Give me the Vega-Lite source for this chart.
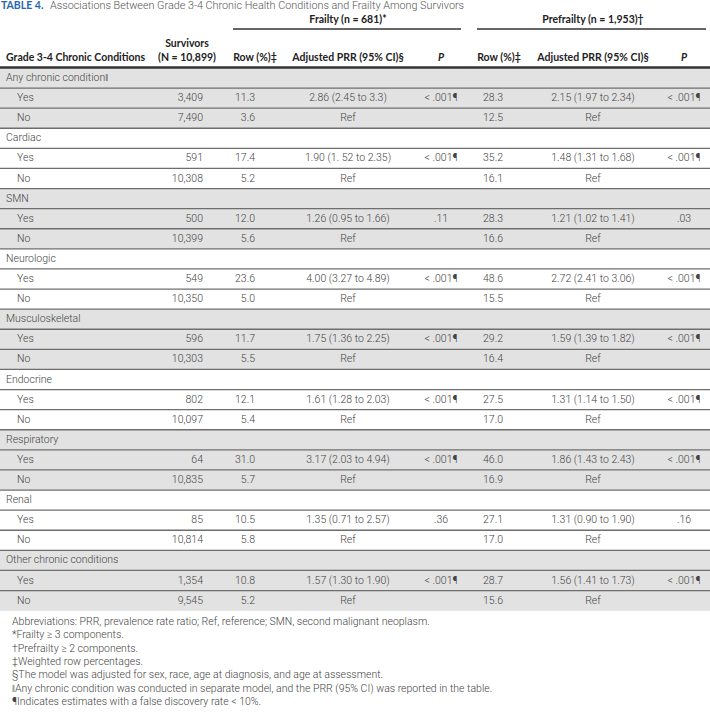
{
  "$schema": "https://vega.github.io/schema/vega-lite/v6.json",
  "width": 710,
  "height": 714,
  "padding": 0,
  "autosize": "none",
  "background": "white",
  "config": {
    "view": {"stroke": null},
    "axis": {"disable": true},
    "text": {"font": "Roboto", "fontSize": 10.5, "fontWeight": 300, "color": "#444444", "baseline": "middle"}
  },
  "datasets": {
    "body": [
      {"line": 4, "group": 0, "kind": "group", "label": "Any chronic condition‖"},
      {"line": 5, "group": 0, "kind": "item", "label": "Yes", "surv": "3,409", "frow": "11.3", "fprr": "2.86 (2.45 to 3.3)", "fp": "< .001¶", "prow": "28.3", "pprr": "2.15 (1.97 to 2.34)", "pp": "< .001¶"},
      {"line": 6, "group": 0, "kind": "item", "label": "No", "surv": "7,490", "frow": "3.6", "fprr": "Ref", "fp": "", "prow": "12.5", "pprr": "Ref", "pp": ""},
      {"line": 7, "group": 1, "kind": "group", "label": "Cardiac"},
      {"line": 8, "group": 1, "kind": "item", "label": "Yes", "surv": "591", "frow": "17.4", "fprr": "1.90 (1. 52 to 2.35)", "fp": "< .001¶", "prow": "35.2", "pprr": "1.48 (1.31 to 1.68)", "pp": "< .001¶"},
      {"line": 9, "group": 1, "kind": "item", "label": "No", "surv": "10,308", "frow": "5.2", "fprr": "Ref", "fp": "", "prow": "16.1", "pprr": "Ref", "pp": ""},
      {"line": 10, "group": 2, "kind": "group", "label": "SMN"},
      {"line": 11, "group": 2, "kind": "item", "label": "Yes", "surv": "500", "frow": "12.0", "fprr": "1.26 (0.95 to 1.66)", "fp": ".11", "prow": "28.3", "pprr": "1.21 (1.02 to 1.41)", "pp": ".03"},
      {"line": 12, "group": 2, "kind": "item", "label": "No", "surv": "10,399", "frow": "5.6", "fprr": "Ref", "fp": "", "prow": "16.6", "pprr": "Ref", "pp": ""},
      {"line": 13, "group": 3, "kind": "group", "label": "Neurologic"},
      {"line": 14, "group": 3, "kind": "item", "label": "Yes", "surv": "549", "frow": "23.6", "fprr": "4.00 (3.27 to 4.89)", "fp": "< .001¶", "prow": "48.6", "pprr": "2.72 (2.41 to 3.06)", "pp": "< .001¶"},
      {"line": 15, "group": 3, "kind": "item", "label": "No", "surv": "10,350", "frow": "5.0", "fprr": "Ref", "fp": "", "prow": "15.5", "pprr": "Ref", "pp": ""},
      {"line": 16, "group": 4, "kind": "group", "label": "Musculoskeletal"},
      {"line": 17, "group": 4, "kind": "item", "label": "Yes", "surv": "596", "frow": "11.7", "fprr": "1.75 (1.36 to 2.25)", "fp": "< .001¶", "prow": "29.2", "pprr": "1.59 (1.39 to 1.82)", "pp": "< .001¶"},
      {"line": 18, "group": 4, "kind": "item", "label": "No", "surv": "10,303", "frow": "5.5", "fprr": "Ref", "fp": "", "prow": "16.4", "pprr": "Ref", "pp": ""},
      {"line": 19, "group": 5, "kind": "group", "label": "Endocrine"},
      {"line": 20, "group": 5, "kind": "item", "label": "Yes", "surv": "802", "frow": "12.1", "fprr": "1.61 (1.28 to 2.03)", "fp": "< .001¶", "prow": "27.5", "pprr": "1.31 (1.14 to 1.50)", "pp": "< .001¶"},
      {"line": 21, "group": 5, "kind": "item", "label": "No", "surv": "10,097", "frow": "5.4", "fprr": "Ref", "fp": "", "prow": "17.0", "pprr": "Ref", "pp": ""},
      {"line": 22, "group": 6, "kind": "group", "label": "Respiratory"},
      {"line": 23, "group": 6, "kind": "item", "label": "Yes", "surv": "64", "frow": "31.0", "fprr": "3.17 (2.03 to 4.94)", "fp": "< .001¶", "prow": "46.0", "pprr": "1.86 (1.43 to 2.43)", "pp": "< .001¶"},
      {"line": 24, "group": 6, "kind": "item", "label": "No", "surv": "10,835", "frow": "5.7", "fprr": "Ref", "fp": "", "prow": "16.9", "pprr": "Ref", "pp": ""},
      {"line": 25, "group": 7, "kind": "group", "label": "Renal"},
      {"line": 26, "group": 7, "kind": "item", "label": "Yes", "surv": "85", "frow": "10.5", "fprr": "1.35 (0.71 to 2.57)", "fp": ".36", "prow": "27.1", "pprr": "1.31 (0.90 to 1.90)", "pp": ".16"},
      {"line": 27, "group": 7, "kind": "item", "label": "No", "surv": "10,814", "frow": "5.8", "fprr": "Ref", "fp": "", "prow": "17.0", "pprr": "Ref", "pp": ""},
      {"line": 28, "group": 8, "kind": "group", "label": "Other chronic conditions"},
      {"line": 29, "group": 8, "kind": "item", "label": "Yes", "surv": "1,354", "frow": "10.8", "fprr": "1.57 (1.30 to 1.90)", "fp": "< .001¶", "prow": "28.7", "pprr": "1.56 (1.41 to 1.73)", "pp": "< .001¶"},
      {"line": 30, "group": 8, "kind": "item", "label": "No", "surv": "9,545", "frow": "5.2", "fprr": "Ref", "fp": "", "prow": "15.6", "pprr": "Ref", "pp": ""}
    ],
    "header": [
      {"line": 1, "col": 10, "text": "Frailty (n = 681)*", "style": "center"},
      {"line": 1, "col": 16, "text": "Prefrailty (n = 1,953)†", "style": "center"},
      {"line": 2, "col": 6, "text": "Survivors", "style": "center"},
      {"line": 3, "col": 2, "text": "Grade 3-4 Chronic Conditions", "style": "left"},
      {"line": 3, "col": 6, "text": "(N = 10,899)", "style": "center"},
      {"line": 3, "col": 9, "text": "Row (%)‡", "style": "center"},
      {"line": 3, "col": 10, "text": "Adjusted PRR (95% CI)§", "style": "center"},
      {"line": 3, "col": 11, "text": "P", "style": "italic"},
      {"line": 3, "col": 14, "text": "Row (%)‡", "style": "center"},
      {"line": 3, "col": 16, "text": "Adjusted PRR (95% CI)§", "style": "center"},
      {"line": 3, "col": 17, "text": "P", "style": "italic"}
    ],
    "spans": [
      {"line": 1, "from": 8, "to": 12},
      {"line": 1, "from": 13, "to": 18}
    ],
    "notes": [
      {"line": 31, "text": "Abbreviations: PRR, prevalence rate ratio; Ref, reference; SMN, second malignant neoplasm."},
      {"line": 32, "text": "*Frailty ≥ 3 components."},
      {"line": 33, "text": "†Prefrailty ≥ 2 components."},
      {"line": 34, "text": "‡Weighted row percentages."},
      {"line": 35, "text": "§The model was adjusted for sex, race, age at diagnosis, and age at assessment."},
      {"line": 36, "text": "‖Any chronic condition was conducted in separate model, and the PRR (95% CI) was reported in the table."},
      {"line": 37, "text": "¶Indicates estimates with a false discovery rate < 10%."}
    ]
  },
  "layer": [
    {
      "data": {"name": "body"},
      "transform": [{"filter": "datum.group % 2 == 0"}],
      "mark": {"type": "rect", "color": "#e2e2e2", "yOffset": -10.05, "y2Offset": 10.05},
      "encoding": {
        "x": {"datum": 0, "type": "quantitative", "axis": null, "scale": {"type": "linear", "zero": false, "nice": false, "domain": [0,1,2,3,4,5,6,7,8,9,10,11,12,13,14,15,16,17,18,19], "range": [0,1,6,12,17,50,187,203,233,255,348,441,461,477,499,503,593,684,706,710]}},
        "x2": {"datum": 19},
        "y": {"field": "line", "type": "quantitative", "axis": null, "scale": {"type": "linear", "zero": false, "nice": false, "domain": [0,1,2,3,4,30,31,37], "range": [6,20,44,58,78,600.6,622,702]}},
        "y2": {"field": "line"}
      }
    },
    {
      "data": {"name": "body"},
      "transform": [{"filter": "datum.line < 30"}],
      "mark": {"type": "rule", "color": "#6e6e6e", "strokeWidth": 1.3, "yOffset": 10.05},
      "encoding": {
        "x": {"datum": 0, "type": "quantitative"},
        "x2": {"datum": 19},
        "y": {"field": "line", "type": "quantitative"}
      }
    },
    {
      "data": {"values": [{}]},
      "mark": {"type": "rule", "color": "#333333", "strokeWidth": 2.5, "yOffset": -10.5},
      "encoding": {
        "x": {"datum": 0, "type": "quantitative"},
        "x2": {"datum": 19},
        "y": {"datum": 4, "type": "quantitative"}
      }
    },
    {
      "data": {"name": "spans"},
      "mark": {"type": "rule", "color": "#333333", "strokeWidth": 1.3, "yOffset": 9},
      "encoding": {
        "x": {"field": "from", "type": "quantitative"},
        "x2": {"field": "to"},
        "y": {"field": "line", "type": "quantitative"}
      }
    },
    {
      "data": {"values": [{"line": 0, "text": "TABLE 4."}]},
      "mark": {"type": "text", "align": "left", "font": "Lato", "fontWeight": "bold", "fontSize": 10.5, "color": "#2a66b0"},
      "encoding": {
        "x": {"datum": 1, "type": "quantitative"},
        "y": {"field": "line", "type": "quantitative"},
        "text": {"field": "text"}
      }
    },
    {
      "data": {"values": [{"line": 0, "text": "Associations Between Grade 3-4 Chronic Health Conditions and Frailty Among Survivors"}]},
      "mark": {"type": "text", "align": "left", "fontSize": 10.8, "color": "#555555"},
      "encoding": {
        "x": {"datum": 5, "type": "quantitative"},
        "y": {"field": "line", "type": "quantitative"},
        "text": {"field": "text"}
      }
    },
    {
      "data": {"name": "header"},
      "transform": [{"filter": "datum.style == 'left'"}],
      "mark": {"type": "text", "align": "left", "font": "Lato", "fontWeight": "bold", "fontSize": 10.5, "color": "#222222"},
      "encoding": {
        "x": {"field": "col", "type": "quantitative"},
        "y": {"field": "line", "type": "quantitative"},
        "text": {"field": "text"}
      }
    },
    {
      "data": {"name": "header"},
      "transform": [{"filter": "datum.style == 'center'"}],
      "mark": {"type": "text", "align": "center", "font": "Lato", "fontWeight": "bold", "fontSize": 10.5, "color": "#222222"},
      "encoding": {
        "x": {"field": "col", "type": "quantitative"},
        "y": {"field": "line", "type": "quantitative"},
        "text": {"field": "text"}
      }
    },
    {
      "data": {"name": "header"},
      "transform": [{"filter": "datum.style == 'italic'"}],
      "mark": {"type": "text", "align": "center", "font": "Lato", "fontWeight": "bold", "fontStyle": "italic", "fontSize": 10.5, "color": "#222222"},
      "encoding": {
        "x": {"field": "col", "type": "quantitative"},
        "y": {"field": "line", "type": "quantitative"},
        "text": {"field": "text"}
      }
    },
    {
      "data": {"name": "body"},
      "transform": [{"filter": "datum.kind == 'group'"}],
      "mark": {"type": "text", "align": "left"},
      "encoding": {
        "x": {"datum": 2, "type": "quantitative"},
        "y": {"field": "line", "type": "quantitative"},
        "text": {"field": "label"}
      }
    },
    {
      "data": {"name": "body"},
      "transform": [{"filter": "datum.kind == 'item'"}],
      "layer": [
        {"mark": {"type": "text", "align": "left"}, "encoding": {"x": {"datum": 4, "type": "quantitative"}, "y": {"field": "line", "type": "quantitative"}, "text": {"field": "label"}}},
        {"mark": {"type": "text", "align": "right"}, "encoding": {"x": {"datum": 7, "type": "quantitative"}, "y": {"field": "line", "type": "quantitative"}, "text": {"field": "surv"}}},
        {"mark": {"type": "text", "align": "right"}, "encoding": {"x": {"datum": 9, "type": "quantitative"}, "y": {"field": "line", "type": "quantitative"}, "text": {"field": "frow"}}},
        {"mark": {"type": "text", "align": "center"}, "encoding": {"x": {"datum": 10, "type": "quantitative"}, "y": {"field": "line", "type": "quantitative"}, "text": {"field": "fprr"}}},
        {"mark": {"type": "text", "align": "center"}, "encoding": {"x": {"datum": 11, "type": "quantitative"}, "y": {"field": "line", "type": "quantitative"}, "text": {"field": "fp"}}},
        {"mark": {"type": "text", "align": "right"}, "encoding": {"x": {"datum": 15, "type": "quantitative"}, "y": {"field": "line", "type": "quantitative"}, "text": {"field": "prow"}}},
        {"mark": {"type": "text", "align": "center"}, "encoding": {"x": {"datum": 16, "type": "quantitative"}, "y": {"field": "line", "type": "quantitative"}, "text": {"field": "pprr"}}},
        {"mark": {"type": "text", "align": "center"}, "encoding": {"x": {"datum": 17, "type": "quantitative"}, "y": {"field": "line", "type": "quantitative"}, "text": {"field": "pp"}}}
      ]
    },
    {
      "data": {"name": "notes"},
      "mark": {"type": "text", "align": "left", "fontSize": 10.5},
      "encoding": {
        "x": {"datum": 3, "type": "quantitative"},
        "y": {"field": "line", "type": "quantitative"},
        "text": {"field": "text"}
      }
    }
  ]
}
